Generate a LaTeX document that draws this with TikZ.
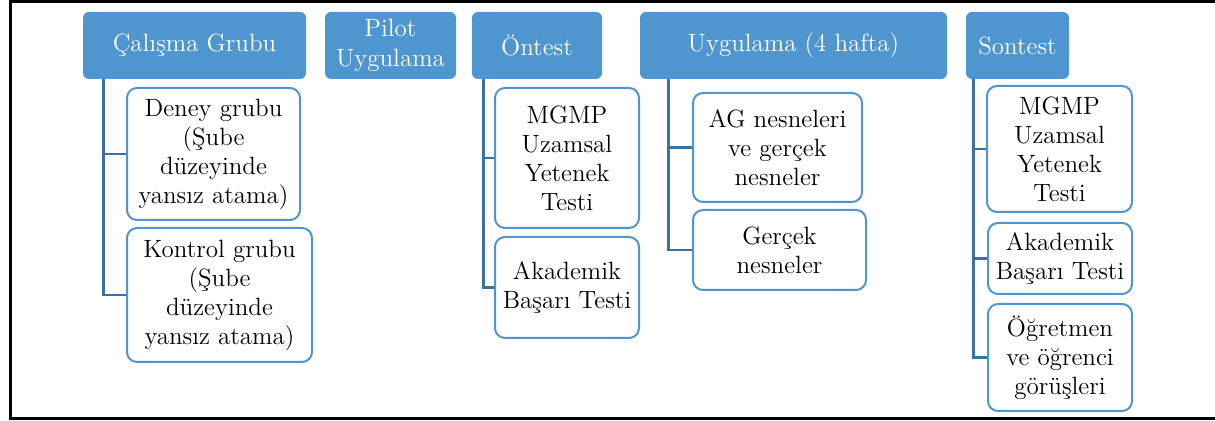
\documentclass[tikz,border=0pt]{standalone}
\usepackage{fontspec}
\definecolor{hdblue}{RGB}{79,149,207}
\definecolor{lnblue}{RGB}{58,112,162}
\begin{document}
\begin{tikzpicture}[x=0.5pt,y=-0.5pt,
  head/.style={fill=hdblue,rounded corners=3pt,text=white,align=center,inner sep=0pt,font=\fontsize{12.5}{15}\selectfont},
  item/.style={draw=hdblue,line width=1pt,fill=white,rounded corners=5pt,align=center,inner sep=0pt,font=\fontsize{12.5}{14.5}\selectfont},
  link/.style={draw=lnblue,line width=1.3pt}]
\useasboundingbox (0,0) rectangle (1215,421);
\draw[line width=1.3pt] (1215,1.5) -- (10.3,1.5) -- (10.3,418.7) -- (1215,418.7);
\node[head,minimum width=111.5pt,minimum height=33.5pt] (hA) at (194.5,45.5) {Çalışma Grubu};
\node[head,minimum width=65.5pt,minimum height=33.5pt] (hB) at (390.5,45.5) {Pilot\\Uygulama};
\node[head,minimum width=65pt,minimum height=33.5pt] (hC) at (537,45.5) {Öntest};
\node[head,minimum width=153.5pt,minimum height=33.5pt] (hD) at (793.5,45.5) {Uygulama (4 hafta)};
\node[head,minimum width=51.5pt,minimum height=33.5pt] (hE) at (1017.5,45.5) {Sontest};
\node[item,minimum width=86.5pt,minimum height=66pt] (a1) at (213.5,154) {Deney grubu\\(Şube\\düzeyinde\\yansız atama)};
\node[item,minimum width=92.5pt,minimum height=67pt] (a2) at (219.5,295) {Kontrol grubu\\(Şube\\düzeyinde\\yansız atama)};
\node[item,minimum width=72pt,minimum height=70pt] (c1) at (567,158) {MGMP\\Uzamsal\\Yetenek\\Testi};
\node[item,minimum width=72pt,minimum height=50.5pt] (c2) at (567,287.5) {Akademik\\Başarı Testi};
\node[item,minimum width=84.5pt,minimum height=54.5pt] (d1) at (777.5,147.5) {AG nesneleri\\ve gerçek\\nesneler};
\node[item,minimum width=86.5pt,minimum height=40pt] (d2) at (779.5,250) {Gerçek\\nesneler};
\node[item,minimum width=72.5pt,minimum height=63pt] (e1) at (1059.5,149) {MGMP\\Uzamsal\\Yetenek\\Testi};
\node[item,minimum width=72pt,minimum height=35.5pt] (e2) at (1060,258.5) {Akademik\\Başarı Testi};
\node[item,minimum width=72pt,minimum height=53.5pt] (e3) at (1060,357.5) {Öğretmen\\ve öğrenci\\görüşleri};
\draw[link] ([xshift=10.5pt]hA.south west) |- (a1.west);
\draw[link] ([xshift=10.5pt]hA.south west) |- (a2.west);
\draw[link] ([xshift=6pt]hC.south west) |- (c1.west);
\draw[link] ([xshift=6pt]hC.south west) |- (c2.west);
\draw[link] ([xshift=14.5pt]hD.south west) |- (d1.west);
\draw[link] ([xshift=14.5pt]hD.south west) |- (d2.west);
\draw[link] ([xshift=4pt]hE.south west) |- (e1.west);
\draw[link] ([xshift=4pt]hE.south west) |- (e2.west);
\draw[link] ([xshift=4pt]hE.south west) |- (e3.west);
\end{tikzpicture}
\end{document}
